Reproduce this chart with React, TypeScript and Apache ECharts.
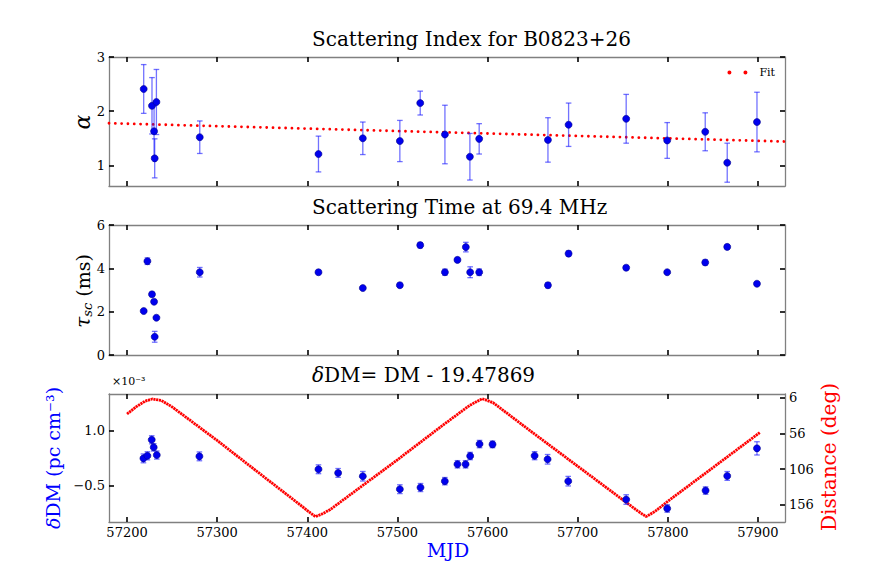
import React, { useEffect, useRef } from "react";
import * as echarts from "echarts";

// ---------- data ----------
const X_TICKS = [57200, 57300, 57400, 57500, 57600, 57700, 57800, 57900];

// Scattering index alpha
const alphaMjd = [57218.5, 57227.7, 57230.0, 57232.6, 57230.7, 57280.7, 57412.4, 57461.6, 57502.7, 57525.3, 57552.7, 57580.4, 57590.7, 57667.0, 57689.9, 57753.8, 57799.3, 57841.5, 57865.9, 57898.9];
const alphaVal = [2.41, 2.10, 1.63, 2.17, 1.13, 1.52, 1.21, 1.50, 1.45, 2.15, 1.57, 1.16, 1.49, 1.47, 1.75, 1.86, 1.46, 1.62, 1.05, 1.80];
const alphaErr = [0.45, 0.52, 0.47, 0.60, 0.36, 0.30, 0.33, 0.30, 0.38, 0.22, 0.54, 0.43, 0.28, 0.41, 0.40, 0.45, 0.33, 0.35, 0.36, 0.55];
const alphaTicks = [1, 2, 3];

// Linear fit
const fitMjd = [57180, 57930];
const fitVal = [1.778, 1.44];

// Scattering time tau_sc (ms)
const tauMjd = [57218.5, 57222.6, 57227.7, 57230.0, 57232.6, 57230.7, 57280.7, 57412.4, 57461.6, 57502.7, 57525.3, 57552.7, 57566.6, 57575.9, 57580.7, 57590.7, 57667.0, 57689.9, 57753.8, 57799.3, 57841.5, 57865.9, 57898.9];
const tauVal = [2.03, 4.33, 2.80, 2.46, 1.72, 0.84, 3.82, 3.82, 3.09, 3.22, 5.07, 3.82, 4.39, 4.98, 3.82, 3.82, 3.22, 4.68, 4.03, 3.82, 4.27, 4.99, 3.29];
const tauErr = [0.07, 0.15, 0.10, 0.08, 0.06, 0.25, 0.22, 0.10, 0.06, 0.10, 0.12, 0.14, 0.10, 0.22, 0.25, 0.15, 0.12, 0.12, 0.10, 0.06, 0.12, 0.10, 0.08];
const tauTicks = [0, 2, 4, 6];

// delta DM (tick-label units)
const dmMjd = [57218.2, 57222.6, 57227.4, 57229.6, 57233.0, 57280.3, 57412.4, 57434.2, 57461.6, 57502.7, 57525.6, 57552.6, 57566.6, 57575.6, 57580.7, 57591.1, 57605.5, 57652.2, 57666.6, 57689.5, 57753.8, 57799.3, 57841.9, 57865.9, 57898.9];
const dmVal = [0.24, 0.31, 0.745, 0.54, 0.33, 0.295, -0.056, -0.156, -0.246, -0.598, -0.553, -0.38, 0.079, 0.079, 0.304, 0.629, 0.62, 0.313, 0.215, -0.38, -0.879, -1.123, -0.635, -0.238, 0.512];
const dmErr = [0.12, 0.11, 0.11, 0.10, 0.11, 0.12, 0.12, 0.12, 0.13, 0.12, 0.11, 0.10, 0.10, 0.10, 0.10, 0.10, 0.09, 0.11, 0.13, 0.13, 0.13, 0.10, 0.10, 0.12, 0.18];
const dmTicks = [-0.5, 1.0];

// Angular distance (deg), right axis
const distMjd = [57200, 57210, 57220, 57228, 57238, 57250, 57300, 57350, 57390, 57402, 57409, 57416, 57425, 57500, 57550, 57580, 57594, 57606, 57650, 57700, 57750, 57766, 57776, 57786, 57800, 57850, 57902];
const distDeg = [29, 19, 11, 8, 10, 19, 66, 115, 154, 166, 172.5, 169, 163, 93, 45, 17, 7.5, 13, 55, 102, 149, 164, 172.5, 165, 151, 104, 55];
const distTicks = [6, 56, 106, 156];

// ---------- styling ----------
const SERIF = "DejaVu Serif";
const FRAME = "#808080";
const X_MIN = 57180;
const X_MAX = 57930;
const LEFT = 109;
const WIDTH = 676;
const TITLE_X = 312;

const zip3 = (a: number[], b: number[], c: number[]) => a.map((v, i) => [v, b[i], c[i]]);
const zip2 = (a: number[], b: number[]) => a.map((v, i) => [v, b[i]]);

function xAx(gridIndex: number, position: string, showLabel: boolean) {
  return {
    type: "value",
    gridIndex,
    position,
    min: X_MIN,
    max: X_MAX,
    axisLine: { show: true, onZero: false, lineStyle: { color: FRAME, width: 1.3 } },
    axisTick: { show: true, inside: true, length: 5, lineStyle: { color: "#000", width: 1.6 }, customValues: X_TICKS },
    axisLabel: {
      show: showLabel,
      customValues: X_TICKS,
      formatter: (v: number) => String(Math.round(v)),
      fontFamily: SERIF,
      fontSize: 13,
      color: "#000",
      margin: 4,
    },
    splitLine: { show: false },
  };
}

function yAx(gridIndex: number, position: string, min: number, max: number, ticks: number[], showLabel: boolean, extra: any = {}) {
  return {
    type: "value",
    gridIndex,
    position,
    min,
    max,
    axisLine: { show: true, onZero: false, lineStyle: { color: FRAME, width: 1.3 } },
    axisTick: { show: true, inside: true, length: 5, lineStyle: { color: "#000", width: 1.6 }, customValues: ticks },
    axisLabel: {
      show: showLabel,
      customValues: ticks,
      formatter: (v: number) => String(v),
      fontFamily: SERIF,
      fontSize: 13,
      color: "#000",
      margin: 4,
      ...(extra.label || {}),
    },
    splitLine: { show: false },
    inverse: !!extra.inverse,
  };
}

function errSeries(xi: number, yi: number, data: number[][]) {
  return {
    type: "custom",
    xAxisIndex: xi,
    yAxisIndex: yi,
    data,
    encode: { x: 0, y: 1 },
    clip: true,
    z: 2,
    silent: true,
    renderItem: (_params: any, api: any) => {
      const x = api.value(0);
      const y = api.value(1);
      const e = api.value(2);
      const p1 = api.coord([x, y + e]);
      const p2 = api.coord([x, y - e]);
      const w = 2.8;
      const style = { stroke: "rgba(20,20,255,0.6)", lineWidth: 1.3 };
      return {
        type: "group",
        children: [
          { type: "line", shape: { x1: p1[0], y1: p1[1], x2: p2[0], y2: p2[1] }, style },
          { type: "line", shape: { x1: p1[0] - w, y1: p1[1], x2: p1[0] + w, y2: p1[1] }, style },
          { type: "line", shape: { x1: p2[0] - w, y1: p2[1], x2: p2[0] + w, y2: p2[1] }, style },
        ],
      };
    },
  };
}

function pointSeries(xi: number, yi: number, data: number[][]) {
  return {
    type: "scatter",
    xAxisIndex: xi,
    yAxisIndex: yi,
    data,
    symbol: "circle",
    symbolSize: 7,
    z: 3,
    itemStyle: { color: "#0000ee", borderColor: "#00008b", borderWidth: 0.6, opacity: 1 },
  };
}

const titleText = (text: string, y: number, rich?: any) => ({
  type: "text",
  x: TITLE_X,
  y,
  style: { text, fontFamily: SERIF, fontSize: 20, fill: "#000", textAlign: "left", textVerticalAlign: "middle", ...(rich ? { rich } : {}) },
});

const option: any = {
  animation: false,
  backgroundColor: "#fff",
  grid: [
    { left: LEFT, top: 57, width: WIDTH, height: 129, containLabel: false },
    { left: LEFT, top: 225, width: WIDTH, height: 130, containLabel: false },
    { left: LEFT, top: 394, width: WIDTH, height: 128, containLabel: false },
  ],
  xAxis: [
    xAx(0, "bottom", false),
    xAx(0, "top", false),
    xAx(1, "bottom", false),
    xAx(1, "top", false),
    xAx(2, "bottom", true),
    xAx(2, "top", false),
  ],
  yAxis: [
    yAx(0, "left", 0.62, 3, alphaTicks, true),
    yAx(0, "right", 0.62, 3, alphaTicks, false),
    yAx(1, "left", 0, 6, tauTicks, true),
    yAx(1, "right", 0, 6, tauTicks, false),
    yAx(2, "left", -1.49, 1.99, dmTicks, true, {
      label: { formatter: (v: number) => (v < 0 ? "\u2212" + Math.abs(v).toFixed(1) : v.toFixed(1)) },
    }),
    yAx(2, "right", 1, 180, distTicks, true, { inverse: true }),
  ],
  legend: {
    data: ["Fit"],
    right: 97,
    top: 67,
    padding: 0,
    itemWidth: 20,
    itemHeight: 4,
    icon: "path://M0,2a2,2 0 1,0 4,0a2,2 0 1,0 -4,0M16,2a2,2 0 1,0 4,0a2,2 0 1,0 -4,0",
    formatter: "  Fit",
    textStyle: { fontFamily: SERIF, fontSize: 11, color: "#000" },
  },
  series: [
    {
      name: "Fit",
      type: "line",
      xAxisIndex: 0,
      yAxisIndex: 0,
      data: zip2(fitMjd, fitVal),
      showSymbol: false,
      symbol: "none",
      color: "#ff0000",
      lineStyle: { color: "#ff0000", width: 2.8, type: [0.01, 6.3], cap: "round" },
      z: 1,
      silent: true,
    },
    errSeries(0, 0, zip3(alphaMjd, alphaVal, alphaErr)),
    pointSeries(0, 0, zip2(alphaMjd, alphaVal)),
    errSeries(2, 2, zip3(tauMjd, tauVal, tauErr)),
    pointSeries(2, 2, zip2(tauMjd, tauVal)),
    {
      name: "Distance",
      type: "line",
      xAxisIndex: 4,
      yAxisIndex: 5,
      data: zip2(distMjd, distDeg),
      showSymbol: false,
      symbol: "none",
      lineStyle: { color: "#ff0000", width: 2.8, type: [2.2, 0.6] },
      z: 1,
      silent: true,
    },
    errSeries(4, 4, zip3(dmMjd, dmVal, dmErr)),
    pointSeries(4, 4, zip2(dmMjd, dmVal)),
  ],
  graphic: [
    titleText("Scattering Index for B0823+26", 39),
    titleText("Scattering Time at 69.4 MHz", 207),
    titleText("{i|\u03b4}{r|DM= DM - 19.47869}", 375, {
      i: { fontFamily: SERIF, fontSize: 20, fontStyle: "italic", fill: "#000" },
      r: { fontFamily: SERIF, fontSize: 20, fill: "#000" },
    }),
    {
      type: "text",
      x: 82,
      y: 122,
      rotation: Math.PI / 2,
      style: { text: "\u03b1", fontFamily: SERIF, fontStyle: "italic", fontSize: 22, fill: "#000", textAlign: "center", textVerticalAlign: "middle" },
    },
    {
      type: "text",
      x: 83,
      y: 291,
      rotation: Math.PI / 2,
      style: {
        text: "{t|\u03c4}{s|sc}{n| (ms)}",
        textAlign: "center",
        textVerticalAlign: "middle",
        fill: "#000",
        rich: {
          t: { fontFamily: SERIF, fontStyle: "italic", fontSize: 20, lineHeight: 22, fill: "#000" },
          s: { fontFamily: SERIF, fontStyle: "italic", fontSize: 13, lineHeight: 22, verticalAlign: "bottom", padding: [6, 0, 0, 0], fill: "#000" },
          n: { fontFamily: SERIF, fontSize: 19, lineHeight: 22, fill: "#000" },
        },
      },
    },
    {
      type: "text",
      x: 53,
      y: 458,
      rotation: Math.PI / 2,
      style: {
        text: "{i|\u03b4}{r|DM (pc cm\u207b\u00b3)}",
        textAlign: "center",
        textVerticalAlign: "middle",
        fill: "#0000ff",
        rich: {
          i: { fontFamily: SERIF, fontSize: 19, fontStyle: "italic", fill: "#0000ff" },
          r: { fontFamily: SERIF, fontSize: 19, fill: "#0000ff" },
        },
      },
    },
    {
      type: "text",
      x: 829,
      y: 457,
      rotation: Math.PI / 2,
      style: { text: "Distance (deg)", fontFamily: SERIF, fontSize: 20, fill: "#ff0000", textAlign: "center", textVerticalAlign: "middle" },
    },
    {
      type: "text",
      x: 448,
      y: 550,
      style: { text: "MJD", fontFamily: SERIF, fontSize: 19, fill: "#0000ff", textAlign: "center", textVerticalAlign: "middle" },
    },
    {
      type: "text",
      x: 112,
      y: 381,
      style: { text: "\u00d710\u207b\u00b3", fontFamily: SERIF, fontSize: 11, fill: "#000", textAlign: "left", textVerticalAlign: "middle" },
    },
  ],
};

export default function App() {
  const ref = useRef<HTMLDivElement>(null);
  useEffect(() => {
    document.body.style.margin = "0";
    const chart = echarts.init(ref.current as HTMLDivElement, null, { renderer: "svg" });
    chart.setOption(option);
    return () => chart.dispose();
  }, []);
  return <div ref={ref} style={{ width: 872, height: 581 }} />;
}
